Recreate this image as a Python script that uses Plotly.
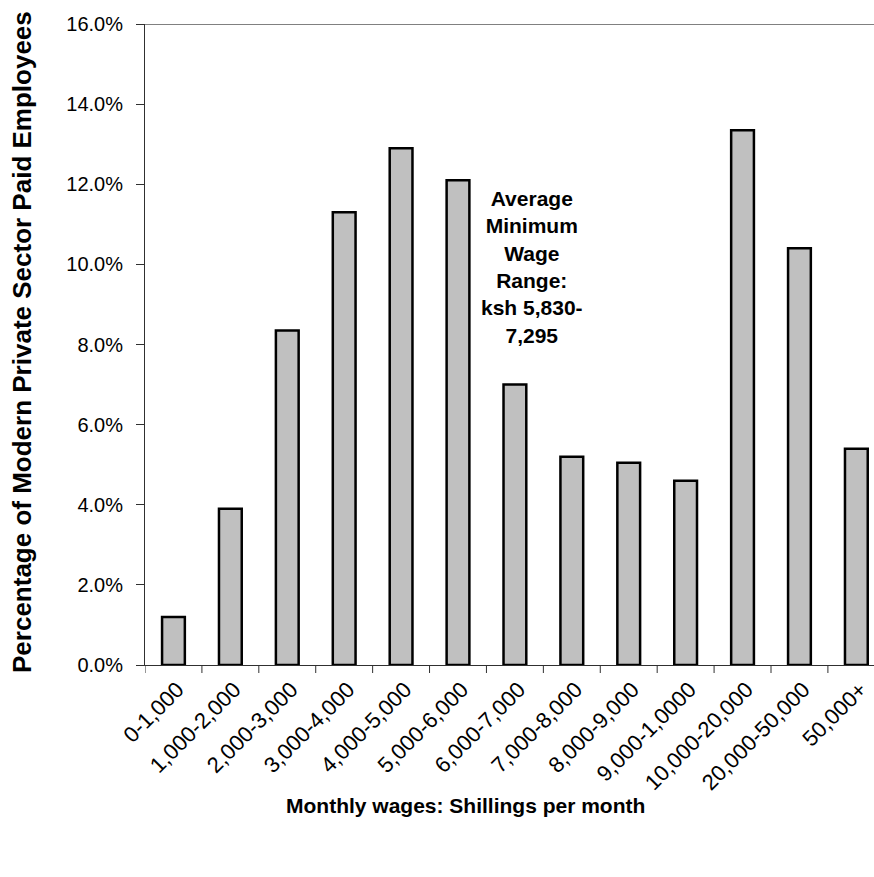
import plotly.graph_objects as go

# Wage bands and share of employees (%)
wage_bands = ["0-1,000", "1,000-2,000", "2,000-3,000", "3,000-4,000", "4,000-5,000",
              "5,000-6,000", "6,000-7,000", "7,000-8,000", "8,000-9,000", "9,000-1,0000",
              "10,000-20,000", "20,000-50,000", "50,000+"]
share_pct = [1.2, 3.9, 8.35, 11.3, 12.9, 12.1, 7.0, 5.2, 5.05, 4.6, 13.35, 10.4, 5.4]

y_ticks = [0, 2, 4, 6, 8, 10, 12, 14, 16]
y_tick_text = [f"{v:.1f}%" for v in y_ticks]

note_text = "Average<br>Minimum<br>Wage<br>Range:<br>ksh 5,830-<br>7,295"

W, H = 874, 877
L, R, T, B = 145, 0, 24, 212

fig = go.Figure(go.Bar(
    x=list(range(len(wage_bands))),
    y=share_pct,
    width=0.4,
    marker=dict(color="#C0C0C0", line=dict(color="#000000", width=2.5)),
))

fig.update_layout(
    width=W, height=H,
    margin=dict(l=L, r=R, t=T, b=B),
    paper_bgcolor="white", plot_bgcolor="white",
    showlegend=False,
    font=dict(family="Liberation Sans, Arial, sans-serif", color="#000000"),
)

fig.update_xaxes(
    range=[-0.5, 12.31],
    tickmode="array",
    tickvals=list(range(len(wage_bands))),
    ticktext=wage_bands,
    tickangle=-45,
    tickfont=dict(size=22),
    ticklabelshift=4,
    ticklabelstandoff=2,
    ticklabeloverflow="allow",
    ticks="",
    showgrid=False, zeroline=False,
    showline=True, linecolor="#303030", linewidth=1,
)
# ticks on category boundaries
for i in range(len(wage_bands) + 1):
    fig.add_shape(type="line", xref="x", yref="paper",
                  x0=i - 0.5, x1=i - 0.5, y0=0, y1=-8 / (H - T - B),
                  line=dict(color="#303030", width=1))

fig.update_yaxes(
    range=[0, 16],
    tickmode="array", tickvals=y_ticks, ticktext=y_tick_text,
    tickfont=dict(size=20),
    ticks="outside", ticklen=8, tickcolor="#303030",
    ticklabelstandoff=9,
    showgrid=False, zeroline=False,
    showline=True, linecolor="#303030", linewidth=1,
)

# top border of plot area
fig.add_shape(type="line", xref="paper", yref="y", x0=0, x1=1, y0=16, y1=16,
              line=dict(color="#808080", width=2))

plot_w = W - L - R
plot_h = H - T - B

fig.add_annotation(
    text="<b>Monthly wages: Shillings per month</b>",
    xref="paper", yref="paper",
    x=(465 - L) / plot_w, y=-(805 - (H - B)) / plot_h,
    showarrow=False, font=dict(size=21), xanchor="center", yanchor="middle",
)
fig.add_annotation(
    text="<b>Percentage of Modern Private Sector Paid Employees</b>",
    xref="paper", yref="paper",
    x=-(L - 22) / plot_w, y=1 - (342 - T) / plot_h,
    textangle=-90,
    showarrow=False, font=dict(size=26), xanchor="center", yanchor="middle",
)
fig.add_annotation(
    text="<b>" + note_text + "</b>",
    xref="paper", yref="paper",
    x=(532 - L) / plot_w, y=1 - (267 - T) / plot_h,
    showarrow=False, font=dict(size=21), align="center",
    xanchor="center", yanchor="middle",
)

fig.write_html("out.html")
